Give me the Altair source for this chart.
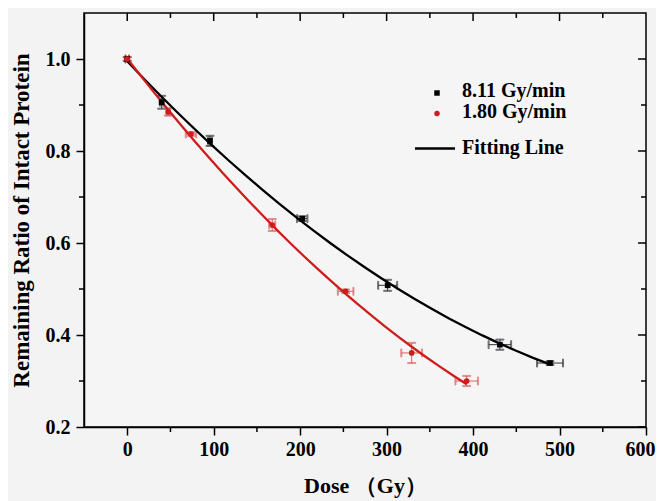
import altair as alt
import pandas as pd

# ---------------- data ----------------
series_fast = "8.11 Gy/min"
series_slow = "1.80 Gy/min"

dose_fast = [0, 39.8, 95.7, 202.4, 301.2, 431.0, 489.0]
ratio_fast = [1.000, 0.906, 0.822, 0.653, 0.508, 0.379, 0.339]
dose_err_fast = [2, 2, 2, 6, 11, 13, 15]
ratio_err_fast = [0.004, 0.014, 0.011, 0.005, 0.012, 0.011, 0.004]

dose_slow = [0, 47.4, 73.7, 167.7, 252.6, 329.0, 392.6]
ratio_slow = [1.000, 0.885, 0.837, 0.639, 0.495, 0.361, 0.300]
dose_err_slow = [2, 2, 6, 3.5, 9, 12, 13]
ratio_err_slow = [0.004, 0.008, 0.004, 0.013, 0.004, 0.022, 0.011]

x_major = [0, 100, 200, 300, 400, 500, 600]
x_minor = [50, 150, 250, 350, 450, 550]
y_major = [0.2, 0.4, 0.6, 0.8, 1.0]
y_minor = [0.3, 0.5, 0.7, 0.9]

x_title = "Dose （Gy）"
y_title = "Remaining Ratio of Intact Protein"
fit_label = "Fitting Line"

# ---------------- build tables ----------------
rows = []
for s, ds, rs, de, re in [
    (series_fast, dose_fast, ratio_fast, dose_err_fast, ratio_err_fast),
    (series_slow, dose_slow, ratio_slow, dose_err_slow, ratio_err_slow),
]:
    for d, r, e1, e2 in zip(ds, rs, de, re):
        rows.append(dict(series=s, dose=d, ratio=r,
                         dose_lo=d - e1, dose_hi=d + e1,
                         ratio_lo=r - e2, ratio_hi=r + e2))
df = pd.DataFrame(rows)

FONT = "Liberation Serif"
W, H = 562, 414
RED = "#d01c1c"

xscale = alt.Scale(domain=[-50, 600], nice=False, zero=False)
yscale = alt.Scale(domain=[0.2, 1.1], nice=False, zero=False)

xaxis = alt.Axis(values=x_major, title=x_title, grid=False, tickSize=8, tickWidth=1.5,
                 tickColor="black", domainColor="black", domainWidth=1.5,
                 labelFont=FONT, labelFontSize=20, labelFontWeight="bold", labelColor="black",
                 labelPadding=4, labelFlush=True, labelFlushOffset=9, labelOverlap=False,
                 titleFont=FONT, titleFontSize=22, titleFontWeight="bold", titleColor="black",
                 titlePadding=16)
yaxis = alt.Axis(values=y_major, title=y_title, format=".1f", grid=False, tickSize=8, tickWidth=1.5,
                 tickColor="black", domainColor="black", domainWidth=1.5,
                 labelFont=FONT, labelFontSize=20, labelFontWeight="bold", labelColor="black",
                 labelPadding=6, labelFlush=False, labelOverlap=False,
                 titleFont=FONT, titleFontSize=23, titleFontWeight="bold", titleColor="black",
                 titlePadding=12)


def X(field):
    return alt.X(field, type="quantitative", scale=xscale, axis=xaxis)


def Y(field):
    return alt.Y(field, type="quantitative", scale=yscale, axis=yaxis)


color = alt.Color("series:N", scale=alt.Scale(domain=[series_fast, series_slow],
                                              range=["#000000", RED]), legend=None)
ecolor = alt.Stroke("series:N", scale=alt.Scale(domain=[series_fast, series_slow],
                                                range=["#333333", "#dd6060"]), legend=None)

base = alt.Chart(df)

# error bars
xerr = base.mark_rule(strokeWidth=1).encode(x=X("dose_lo"), x2="dose_hi", y=Y("ratio"), stroke=ecolor)
yerr = base.mark_rule(strokeWidth=1).encode(x=X("dose"), y=Y("ratio_lo"), y2="ratio_hi", stroke=ecolor)
cap_xl = base.mark_tick(orient="vertical", size=8, thickness=1).encode(x=X("dose_lo"), y=Y("ratio"), stroke=ecolor)
cap_xh = base.mark_tick(orient="vertical", size=8, thickness=1).encode(x=X("dose_hi"), y=Y("ratio"), stroke=ecolor)
cap_yl = base.mark_tick(orient="horizontal", size=8, thickness=1).encode(x=X("dose"), y=Y("ratio_lo"), stroke=ecolor)
cap_yh = base.mark_tick(orient="horizontal", size=8, thickness=1).encode(x=X("dose"), y=Y("ratio_hi"), stroke=ecolor)

# fitting lines
fit = base.transform_regression("dose", "ratio", method="poly", order=2, groupby=["series"]).mark_line(
    strokeWidth=2.3).encode(x=X("dose"), y=Y("ratio"), color=color)

# points
pts_fast = alt.Chart(df[df.series == series_fast]).mark_square(size=32, opacity=1).encode(
    x=X("dose"), y=Y("ratio"), color=color)
pts_slow = alt.Chart(df[df.series == series_slow]).mark_circle(size=32, opacity=1).encode(
    x=X("dose"), y=Y("ratio"), color=color)

# minor / mirrored ticks
txmaj = pd.DataFrame({"dose": x_major[:-1]})
txmin = pd.DataFrame({"dose": x_minor})
tymaj = pd.DataFrame({"ratio": y_major})
tymin = pd.DataFrame({"ratio": y_minor})
tk = dict(color="black", strokeWidth=1.5)
bot_minor = alt.Chart(txmin).mark_rule(**tk).encode(x=X("dose"), y=alt.value(H), y2=alt.value(H + 5))
top_major = alt.Chart(txmaj).mark_rule(**tk).encode(x=X("dose"), y=alt.value(0), y2=alt.value(8))
top_minor = alt.Chart(txmin).mark_rule(**tk).encode(x=X("dose"), y=alt.value(0), y2=alt.value(5))
left_minor = alt.Chart(tymin).mark_rule(**tk).encode(y=Y("ratio"), x=alt.value(0), x2=alt.value(-5))
right_major = alt.Chart(tymaj).mark_rule(**tk).encode(y=Y("ratio"), x=alt.value(W), x2=alt.value(W - 8))
right_minor = alt.Chart(tymin).mark_rule(**tk).encode(y=Y("ratio"), x=alt.value(W), x2=alt.value(W - 5))

# manual legend
leg_df = pd.DataFrame({"label": [series_fast, series_slow, fit_label]})
lt = dict(font=FONT, fontSize=20, fontWeight="bold", align="left", baseline="alphabetic", color="black")
leg_sq = alt.Chart(leg_df.iloc[[0]]).mark_square(size=30, color="black", opacity=1).encode(
    x=alt.value(353), y=alt.value(80))
leg_ci = alt.Chart(leg_df.iloc[[1]]).mark_circle(size=30, color=RED, opacity=1).encode(
    x=alt.value(353), y=alt.value(100.5))
leg_ln = alt.Chart(leg_df.iloc[[2]]).mark_rule(color="black", strokeWidth=2.3).encode(
    x=alt.value(331), x2=alt.value(371), y=alt.value(135.5))
leg_t1 = alt.Chart(leg_df.iloc[[0]]).mark_text(**lt).encode(text="label:N", x=alt.value(378), y=alt.value(84))
leg_t2 = alt.Chart(leg_df.iloc[[1]]).mark_text(**lt).encode(text="label:N", x=alt.value(378), y=alt.value(105))
leg_t3 = alt.Chart(leg_df.iloc[[2]]).mark_text(**lt).encode(text="label:N", x=alt.value(378), y=alt.value(140.5))

chart = alt.layer(
    xerr, yerr, cap_xl, cap_xh, cap_yl, cap_yh, fit, pts_fast, pts_slow,
    bot_minor, top_major, top_minor, left_minor, right_major, right_minor,
    leg_sq, leg_ci, leg_ln, leg_t1, leg_t2, leg_t3,
).properties(
    width=W, height=H,
    padding={"left": 76, "top": 5, "right": 10, "bottom": 76},
    autosize=alt.AutoSizeParams(type="none"),
    background="#f3f3f3",
).configure_view(
    stroke="black", strokeWidth=1.5, fill="#f5f5f5"
)

chart.save("out.html", embed_options={"renderer": "svg", "actions": False})
